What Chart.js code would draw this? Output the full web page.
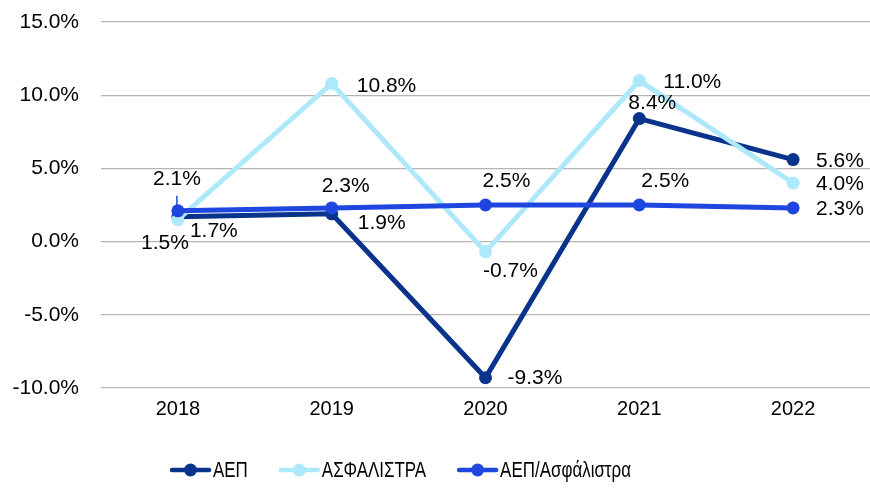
<!DOCTYPE html>
<html>
<head>
<meta charset="utf-8">
<script src="https://cdn.jsdelivr.net/npm/chart.js@4.4.1/dist/chart.umd.min.js"></script>
<style>
  html, body { margin: 0; padding: 0; background: #fff; }
  canvas { display: block; }
</style>
</head>
<body>
<canvas id="c" width="870" height="488"></canvas>
<script>
// Years on the horizontal axis
const years = ['2018', '2019', '2020', '2021', '2022'];

// Annual change, percent
const gdp = [1.7, 1.9, -9.3, 8.4, 5.6];
const premiums = [1.5, 10.8, -0.7, 11.0, 4.0];
const premiumsToGdp = [2.1, 2.3, 2.5, 2.5, 2.3];

// Vertical axis range and step, percent
const yMin = -10;
const yMax = 15;
const yStep = 5;

const seriesNames = ['ΑΕΠ', 'ΑΣΦΑΛΙΣΤΡΑ', 'ΑΕΠ/Ασφάλιστρα'];
const colors = ['#0a338c', '#aee9fb', '#1f47df'];

// Value label placement per point: [dx, dy, textAlign]
const labelPlacement = [
  [[12, 14, 'left'], [26, 9, 'left'], [22, 0, 'left'], [13, -15, 'center'], [23, 2, 'left']],
  [[-13, 24, 'center'], [25, 3, 'left'], [25, 19, 'center'], [24, 2, 'left'], [23, 1, 'left']],
  [[-1, -32, 'center'], [14, -22, 'center'], [21, -24, 'center'], [26, -24, 'center'], [23, 1, 'left']]
];

const FONT = '"Liberation Sans", Arial, Helvetica, sans-serif';

// Data value labels next to each point
const valueLabels = {
  id: 'valueLabels',
  afterDatasetsDraw(chart) {
    const ctx = chart.ctx;
    ctx.save();
    ctx.font = '21px ' + FONT;
    ctx.fillStyle = '#000';
    ctx.textBaseline = 'middle';
    chart.data.datasets.forEach((ds, di) => {
      const meta = chart.getDatasetMeta(di);
      meta.data.forEach((pt, i) => {
        const [dx, dy, align] = labelPlacement[di][i];
        ctx.textAlign = align;
        ctx.fillText(ds.data[i].toFixed(1) + '%', pt.x + dx, pt.y + dy);
      });
    });
    // leader line for the first ratio label
    const p0 = chart.getDatasetMeta(2).data[0];
    ctx.strokeStyle = colors[2];
    ctx.lineWidth = 1.5;
    ctx.beginPath();
    ctx.moveTo(p0.x - 1, p0.y - 15);
    ctx.lineTo(p0.x - 1, p0.y - 4);
    ctx.stroke();
    ctx.restore();
  }
};

// Bottom legend: line-with-dot marker and condensed series name
const lineLegend = {
  id: 'lineLegend',
  afterDraw(chart) {
    const ctx = chart.ctx;
    const squeeze = 0.77;
    const y = 470;
    let x = 170;
    ctx.save();
    ctx.font = '22px ' + FONT;
    ctx.textBaseline = 'middle';
    ctx.textAlign = 'left';
    chart.data.datasets.forEach((ds, i) => {
      const c = ds.borderColor;
      ctx.strokeStyle = c;
      ctx.fillStyle = c;
      ctx.lineWidth = 4.5;
      ctx.lineCap = 'round';
      ctx.beginPath(); ctx.moveTo(x + 2, y); ctx.lineTo(x + 39, y); ctx.stroke();
      ctx.beginPath(); ctx.arc(x + 20.5, y, 6.5, 0, Math.PI * 2); ctx.fill();
      const tx = x + 43;
      const w = ctx.measureText(ds.label).width * squeeze;
      ctx.save();
      ctx.translate(tx, y + 1);
      ctx.scale(squeeze, 1);
      ctx.fillStyle = '#000';
      ctx.fillText(ds.label, 0, 0);
      ctx.restore();
      x = tx + w + 31;
    });
    ctx.restore();
  }
};

const datasets = [gdp, premiums, premiumsToGdp].map((vals, i) => ({
  label: seriesNames[i],
  data: vals,
  borderColor: colors[i],
  backgroundColor: colors[i],
  pointBackgroundColor: colors[i],
  pointBorderWidth: 0,
  borderWidth: 5,
  pointRadius: 6.5,
  pointHoverRadius: 6.5,
  tension: 0,
  clip: false,
  order: 3 - i
}));

new Chart(document.getElementById('c'), {
  type: 'line',
  data: { labels: years, datasets },
  plugins: [valueLabels, lineLegend],
  options: {
    responsive: false,
    animation: false,
    layout: { autoPadding: false, padding: { top: 0, right: 0, left: 0, bottom: 58 } },
    plugins: {
      tooltip: { enabled: false },
      legend: { display: false }
    },
    scales: {
      x: {
        offset: true,
        grid: { display: false, drawTicks: false },
        border: { display: false },
        ticks: { color: '#000', font: { family: FONT, size: 20 }, padding: 9 },
        afterFit(scale) { scale.paddingLeft = 0; scale.paddingRight = 0; }
      },
      y: {
        min: yMin,
        max: yMax,
        ticks: {
          stepSize: yStep,
          color: '#000',
          padding: 22,
          font: { family: FONT, size: 21 },
          callback: v => v.toFixed(1) + '%'
        },
        grid: { color: '#b5b5b5', lineWidth: 1.2, drawTicks: false },
        border: { display: false },
        afterFit(scale) {
          scale.width = 101;
          scale.paddingTop = 22;
          scale.paddingBottom = 0;
        }
      }
    }
  }
});
</script>
</body>
</html>
